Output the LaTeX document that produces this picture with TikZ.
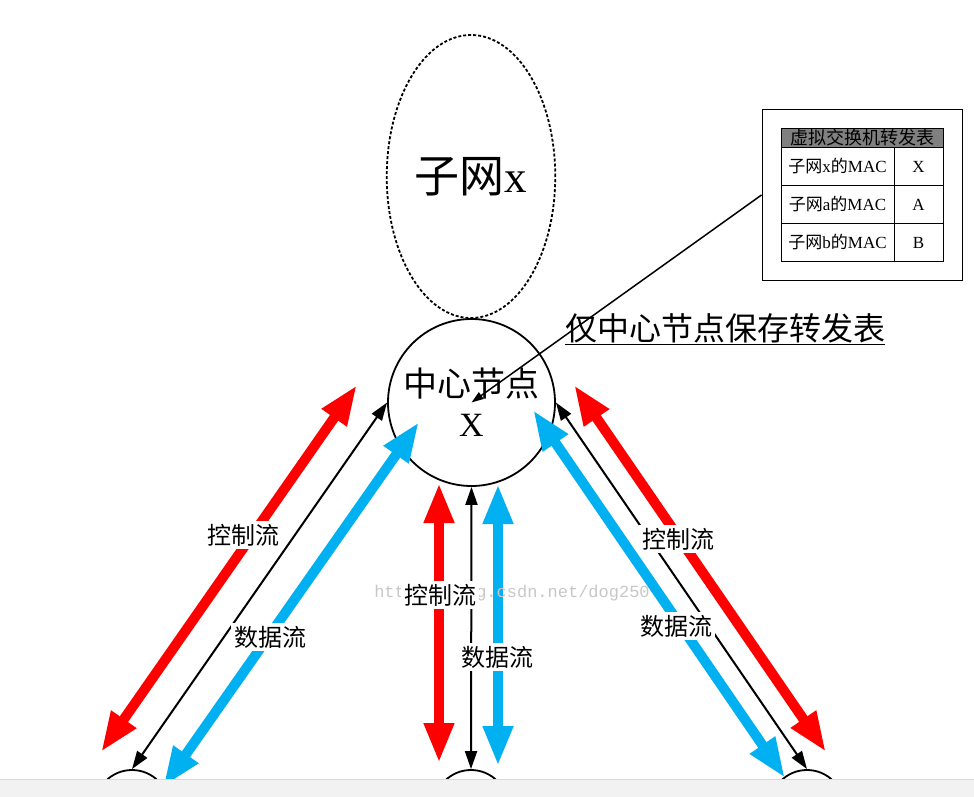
\documentclass[tikz,border=0pt]{standalone}
\usepackage{fontspec}
\setmainfont{Liberation Serif}
\setmonofont{Liberation Mono}
\newfontfamily\cjk{Noto Sans CJK SC}
\usetikzlibrary{arrows.meta,shapes.geometric}
\definecolor{flowred}{RGB}{255,0,0}
\definecolor{flowblue}{RGB}{0,176,240}
\tikzset{
  bigflow/.style={line width=10pt,{Triangle[width=28pt,length=40pt]}-{Triangle[width=28pt,length=40pt]}},
  thinflow/.style={line width=2pt,{Triangle[width=12pt,length=18pt]}-{Triangle[width=12pt,length=18pt]}},
  flowlabel/.style={fill=white,inner sep=3pt,font=\cjk\fontsize{24}{24}\selectfont},
  peer/.style={circle,draw,line width=1.8pt,minimum size=74pt},
  tabcell/.style={draw,line width=0.8pt,inner sep=0pt,font=\fontsize{17}{17}\selectfont}
}
\begin{document}
\begin{tikzpicture}[x=1pt,y=-1pt]
\useasboundingbox (0,0) rectangle (974,797);
% subnet and centre node
\node [ellipse, draw, dash pattern=on 3pt off 2pt, line width=1.8pt, minimum width=166, minimum height=283, font=\fontsize{45}{45}\selectfont] (subx) at (471,176.5) {{\cjk 子网}x};
\node [circle, draw, line width=1.8pt, minimum size=167, align=center, font=\fontsize{34}{40}\selectfont] (hub) at (471.5,402.5) {{\cjk 中心节点}\\X};
\node [peer] (peerL) at (132,807) {};
\node [peer] (peerM) at (471,807) {};
\node [peer] (peerR) at (807,807) {};
% free ends of the thick flows
\coordinate (redLt) at (357,385);
\coordinate (redLb) at (101,752);
\coordinate (blueLt) at (419,422);
\coordinate (blueLb) at (163,787);
\coordinate (redMt) at (439,483);
\coordinate (redMb) at (439,763);
\coordinate (blueMt) at (498,484);
\coordinate (blueMb) at (498,766);
\coordinate (redRt) at (574,385);
\coordinate (redRb) at (826,752);
\coordinate (blueRt) at (533,410);
\coordinate (blueRb) at (785,778);
\draw [bigflow, flowred] (redLt) -- (redLb);
\draw [bigflow, flowblue] (blueLt) -- (blueLb);
\draw [bigflow, flowred] (redMt) -- (redMb);
\draw [bigflow, flowblue] (blueMt) -- (blueMb);
\draw [bigflow, flowred] (redRt) -- (redRb);
\draw [bigflow, flowblue] (blueRt) -- (blueRb);
\draw [thinflow] (hub.180) -- (peerL.north);
\draw [thinflow] (hub.south) -- (peerM.north);
\draw [thinflow] (hub.0) -- (peerR.north);
\node [black!22, font=\ttfamily\fontsize{17}{17}\selectfont] (mark) at (512,593) {http://blog.csdn.net/dog250};
% flow labels
\node [flowlabel] (ctlL) at (243,535) {控制流};
\node [flowlabel] (datL) at (270,637) {数据流};
\node [flowlabel] (ctlM) at (440,595) {控制流};
\node [flowlabel] (datM) at (497,657) {数据流};
\node [flowlabel] (ctlR) at (678,539) {控制流};
\node [flowlabel] (datR) at (676,626) {数据流};
% forwarding table
\node [draw, line width=1pt, minimum width=200, minimum height=170] (tablebox) at (862,195) {};
\node [tabcell, fill=gray, minimum width=162, minimum height=19, font=\cjk\fontsize{18}{18}\selectfont] (thead) at (862,137.5) {虚拟交换机转发表};
\node [tabcell, minimum width=113, minimum height=38] (macx) at (837.5,166.5) {{\cjk 子网}x{\cjk 的}MAC};
\node [tabcell, minimum width=49, minimum height=38] (portx) at (918.5,166.5) {X};
\node [tabcell, minimum width=113, minimum height=38] (maca) at (837.5,204.5) {{\cjk 子网}a{\cjk 的}MAC};
\node [tabcell, minimum width=49, minimum height=38] (porta) at (918.5,204.5) {A};
\node [tabcell, minimum width=113, minimum height=38] (macb) at (837.5,242.5) {{\cjk 子网}b{\cjk 的}MAC};
\node [tabcell, minimum width=49, minimum height=38] (portb) at (918.5,242.5) {B};
\draw [line width=1.5pt, -{Triangle[width=8pt,length=12pt]}] (tablebox.west) -- (hub.center);
\node [font=\cjk\fontsize{32}{32}\selectfont] (note) at (725,329) {\underline{仅中心节点保存转发表}};
% bottom strip
\fill [black!5] (0,779) rectangle (974,797);
\draw [black!15] (0,779.5) -- (974,779.5);
\end{tikzpicture}
\end{document}
